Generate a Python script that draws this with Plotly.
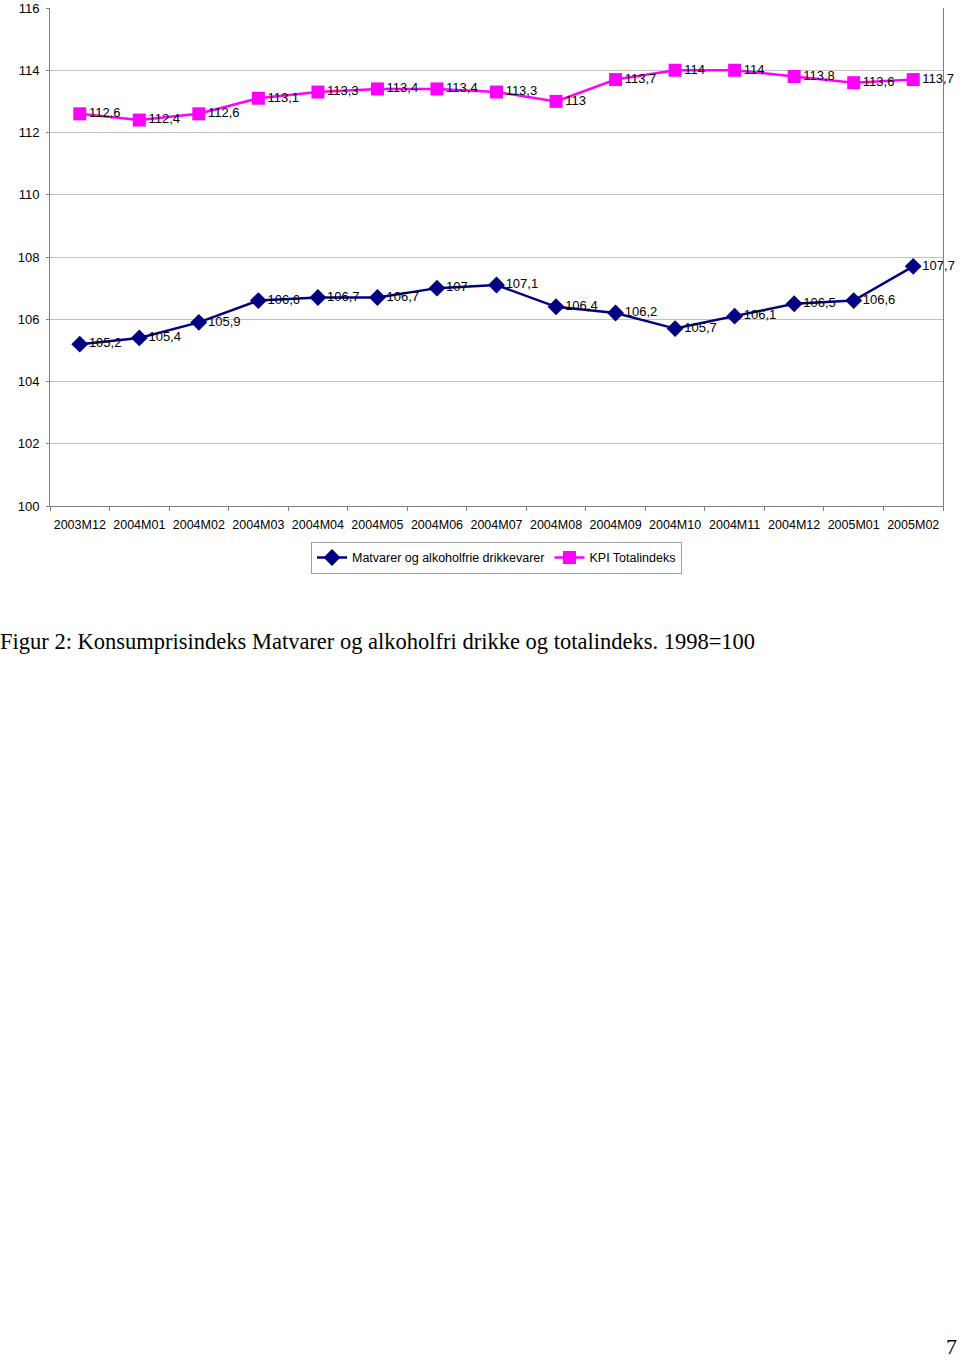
import plotly.graph_objects as go

categories = ["2003M12", "2004M01", "2004M02", "2004M03", "2004M04", "2004M05", "2004M06",
              "2004M07", "2004M08", "2004M09", "2004M10", "2004M11", "2004M12", "2005M01", "2005M02"]
matvarer = [105.2, 105.4, 105.9, 106.6, 106.7, 106.7, 107, 107.1, 106.4, 106.2, 105.7, 106.1, 106.5, 106.6, 107.7]
kpi = [112.6, 112.4, 112.6, 113.1, 113.3, 113.4, 113.4, 113.3, 113, 113.7, 114, 114, 113.8, 113.6, 113.7]
y_ticks = [100, 102, 104, 106, 108, 110, 112, 114, 116]


def fmt(v):
    return ("%g" % v).replace(".", ",")


label_font = dict(family="Liberation Sans, Arial", size=13, color="black")

fig = go.Figure()
fig.add_trace(go.Scatter(
    x=categories, y=matvarer, name="Matvarer og alkoholfrie drikkevarer",
    mode="lines+markers+text", text=[fmt(v) for v in matvarer], textposition="middle right",
    textfont=label_font,
    line=dict(color="#000080", width=2.5),
    marker=dict(symbol="diamond", size=13, color="#000080"),
    cliponaxis=False,
))
fig.add_trace(go.Scatter(
    x=categories, y=kpi, name="KPI Totalindeks",
    mode="lines+markers+text", text=[fmt(v) for v in kpi], textposition="middle right",
    textfont=label_font,
    line=dict(color="#FF00FF", width=2.5),
    marker=dict(symbol="square", size=13, color="#FF00FF"),
    cliponaxis=False,
))

fig.update_layout(
    width=960, height=1361,
    margin=dict(l=50, r=17, t=8, b=855),
    paper_bgcolor="white", plot_bgcolor="white",
    font=dict(family="Liberation Sans, Arial", size=12.5, color="black"),
    showlegend=True,
    legend=dict(orientation="h", x=0.5, xanchor="center", y=-0.072, yanchor="top",
                bordercolor="#A0A0A0", borderwidth=1, font=dict(size=12.5),
                itemwidth=30, tracegroupgap=0),
    xaxis=dict(type="category", range=[-0.5, 14.5], showgrid=False,
               showline=True, linecolor="#808080", linewidth=1,
               ticks="outside", tickson="boundaries", ticklen=4, tickcolor="#808080",
               mirror=False, tickfont=dict(size=12.5), tickangle=0, automargin=False,
               ticklabelstandoff=7),
    yaxis=dict(range=[100, 116], tickvals=y_ticks, showgrid=True, gridcolor="#C0C0C0",
               gridwidth=1, showline=True, linecolor="#808080", linewidth=1, mirror=True,
               ticks="outside", ticklen=3, tickcolor="#808080", tickfont=dict(size=13),
               zeroline=False, automargin=False, ticklabelstandoff=4),
)

fig.add_annotation(text="Figur 2: Konsumprisindeks Matvarer og alkoholfri drikke og totalindeks. 1998=100",
                   xref="paper", yref="paper", x=-52 / 893, xanchor="left",
                   y=(506 - 641) / 498, yanchor="middle", showarrow=False,
                   font=dict(family="Liberation Serif, Times New Roman", size=22.5, color="black"))
fig.add_annotation(text="7", xref="paper", yref="paper", x=(959 - 50) / 893, xanchor="right",
                   y=(506 - 1346) / 498, yanchor="middle", showarrow=False,
                   font=dict(family="Liberation Serif, Times New Roman", size=22, color="black"))

fig.write_html("out.html")
